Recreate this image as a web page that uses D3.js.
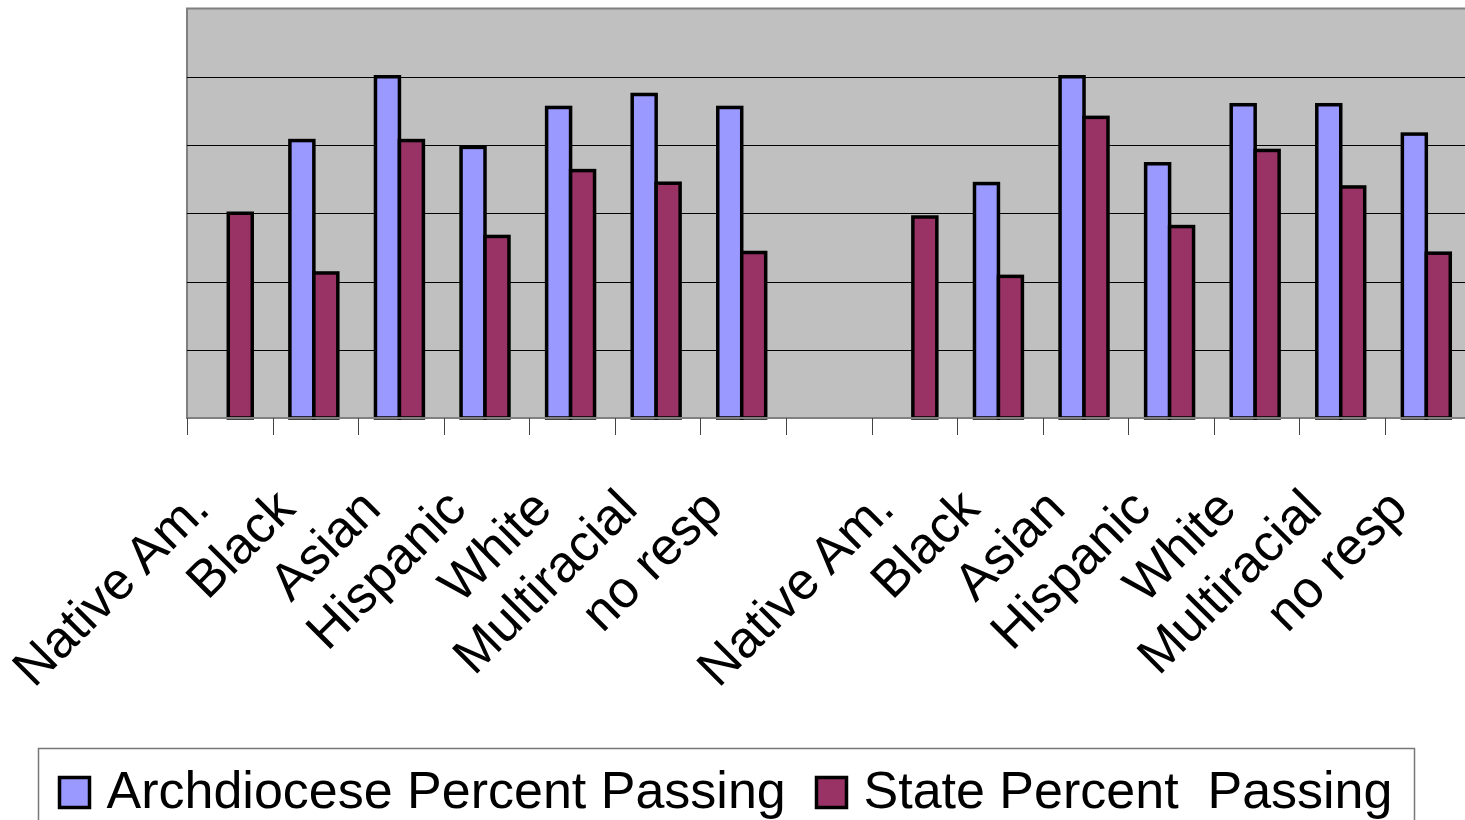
<!DOCTYPE html>
<html>
<head>
<meta charset="utf-8">
<script src="https://cdn.jsdelivr.net/npm/d3@7/dist/d3.min.js"></script>
<style>
  html, body { margin: 0; padding: 0; background: #ffffff; overflow: hidden; }
  svg { display: block; }
  text { font-family: "Liberation Sans", Arial, Helvetica, sans-serif; fill: #000; }
</style>
</head>
<body>
<svg id="chart" width="1465" height="820"></svg>
<script>
// ---- data ----
const categories = ["Native Am.", "Black", "Asian", "Hispanic", "White", "Multiracial", "no resp", "",
                    "Native Am.", "Black", "Asian", "Hispanic", "White", "Multiracial", "no resp"];
const archdiocesePassing = [null, 81.3, 100, 79.3, 91.0, 94.8, 91.0, null,
                            null, 68.7, 100, 74.5, 91.8, 91.8, 83.2];
const statePassing = [60.0, 42.5, 81.3, 53.2, 72.5, 68.8, 48.5, null,
                      58.9, 41.5, 88.1, 56.1, 78.4, 67.7, 48.3];
const seriesNames = ["Archdiocese Percent Passing", "State Percent  Passing"];
const seriesColors = ["#9999FF", "#993366"];
const yTicks = [0, 20, 40, 60, 80, 100, 120];

// ---- layout ----
const plot = { left: 187, right: 1470.6, top: 8.5, bottom: 418 };
const svg = d3.select("#chart");

const idx = d3.range(categories.length);
const x0 = d3.scaleBand().domain(idx).range([plot.left, plot.right]).paddingInner(0.44).paddingOuter(0.22);
const x1 = d3.scaleBand().domain([0, 1]).range([0, x0.bandwidth()]);
const y = d3.scaleLinear().domain([0, 120]).range([plot.bottom, plot.top]);

// plot background
svg.append("rect")
  .attr("x", plot.left).attr("y", plot.top)
  .attr("width", plot.right - plot.left).attr("height", plot.bottom - plot.top)
  .attr("fill", "#C0C0C0").attr("stroke", "#808080").attr("stroke-width", 2);

// gridlines
svg.append("g").selectAll("line")
  .data(yTicks.filter(t => t > 0 && t < 120))
  .join("line")
  .attr("x1", plot.left).attr("x2", plot.right)
  .attr("y1", d => Math.round(y(d)) + 0.5).attr("y2", d => Math.round(y(d)) + 0.5)
  .attr("stroke", "#000").attr("stroke-width", 1);

// bars
const series = [archdiocesePassing, statePassing];
const barG = svg.append("g");
series.forEach((vals, si) => {
  barG.append("g").selectAll("rect")
    .data(idx.filter(i => vals[i] != null))
    .join("rect")
    .attr("x", i => x0(i) + x1(si) - 1.5)
    .attr("y", i => y(vals[i]))
    .attr("width", x1.bandwidth())
    .attr("height", i => y(0) - y(vals[i]))
    .attr("fill", seriesColors[si])
    .attr("stroke", "#000")
    .attr("stroke-width", 3.5);
});

// x axis baseline + ticks at category boundaries
const step = x0.step();
const axisG = svg.append("g");
axisG.append("line")
  .attr("x1", plot.left).attr("x2", plot.right)
  .attr("y1", plot.bottom).attr("y2", plot.bottom)
  .attr("stroke", "#808080").attr("stroke-width", 2);
axisG.selectAll("line.tick")
  .data(d3.range(categories.length + 1))
  .join("line")
  .attr("class", "tick")
  .attr("x1", i => Math.round(plot.left + i * step) + 0.5)
  .attr("x2", i => Math.round(plot.left + i * step) + 0.5)
  .attr("y1", plot.bottom).attr("y2", plot.bottom + 17)
  .attr("stroke", "#444").attr("stroke-width", 1);

// category labels, rotated
axisG.selectAll("text.cat")
  .data(idx.filter(i => categories[i] !== ""))
  .join("text")
  .attr("class", "cat")
  .attr("transform", i => `translate(${x0(i) + x0.bandwidth() / 2 - 18},511) rotate(-45)`)
  .attr("text-anchor", "end")
  .style("font-size", "52px")
  .text(i => categories[i]);

// legend
const lg = svg.append("g");
lg.append("rect")
  .attr("x", 38.5).attr("y", 748.5).attr("width", 1376).attr("height", 120)
  .attr("fill", "#fff").attr("stroke", "#777").attr("stroke-width", 1.5);
const legendX = [59.5, 816.5];
seriesNames.forEach((name, si) => {
  lg.append("rect")
    .attr("x", legendX[si]).attr("y", 777.5).attr("width", 30).attr("height", 30)
    .attr("fill", seriesColors[si]).attr("stroke", "#000").attr("stroke-width", 3.5);
  lg.append("text")
    .attr("x", legendX[si] + 47).attr("y", 808)
    .attr("xml:space", "preserve")
    .style("white-space", "pre")
    .style("font-size", "52px")
    .text(name);
});
</script>
</body>
</html>
